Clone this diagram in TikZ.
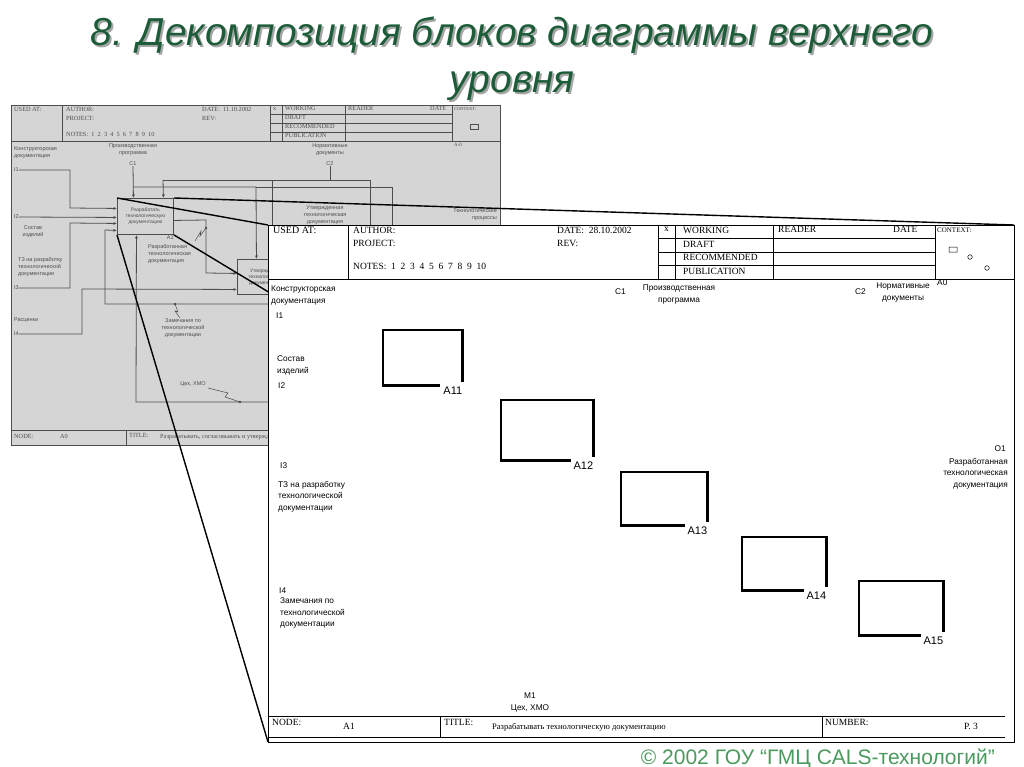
\documentclass[tikz,border=0pt]{standalone}
\usepackage{fontspec}
\setmainfont{Liberation Serif}
\setsansfont{Liberation Sans}
\usetikzlibrary{arrows.meta, positioning, calc}
\definecolor{ttlgreen}{HTML}{1D5C38}
\definecolor{cpgreen}{HTML}{4C9A5E}
\definecolor{shotgray}{HTML}{D5D5D5}
\definecolor{shotink}{HTML}{4D4D4D}

\begin{document}
\begin{tikzpicture}[
  x=1pt, y=-1pt,
  hdr/.style={inner sep=0, anchor=north west, font=\fontsize{9.5}{11}\selectfont},
  lbl/.style={inner sep=0, anchor=north west, align=left, font=\sffamily\fontsize{8.3}{11.5}\selectfont},
  blk/.style={inner sep=0, anchor=north west},
  blkline/.style={line width=2.2pt},
  blklbl/.style={inner sep=0, anchor=north east, font=\sffamily\fontsize{11}{11}\selectfont},
  sheetline/.style={line width=0.7pt},
  shot/.style={inner sep=0, text=shotink, align=center, font=\sffamily\fontsize{5.5}{7}\selectfont},
  shothdr/.style={inner sep=0, anchor=north west, text=shotink, font=\fontsize{6.3}{7}\selectfont},
  gbox/.style={draw=shotink, line width=0.9pt, fill=shotgray, inner sep=0, anchor=north west},
  garr/.style={draw=shotink, line width=0.8pt, -{Latex[length=3.5pt, width=3pt]}},
  gline/.style={draw=shotink, line width=0.8pt},
  zoomline/.style={line width=1.4pt},
  ttl/.style={align=center, font=\sffamily\itshape\fontsize{39}{47}\selectfont},
]

\fill[white] (0,0) rectangle (1024,767);
\useasboundingbox (0,0) rectangle (1024,767);

% screenshot of the upper level diagram
\fill[shotgray] (11,105) rectangle (500,445);
\draw[gline] (11,105) rectangle (500,445);
\draw[gline, line width=0.6pt] (11,141) -- (500,141)
  (62,105) -- (62,141) (270,105) -- (270,141) (282,105) -- (282,141)
  (345,105) -- (345,141) (452,105) -- (452,141)
  (270,114) -- (452,114) (270,123) -- (452,123) (270,132) -- (452,132)
  (11,430) -- (500,430) (126,430) -- (126,445);
\draw[gline, line width=0.5pt] (470,124) rectangle (478,129);
\node[shothdr] at (14,107) {USED AT:};
\node[shothdr] at (66,107) {AUTHOR:};
\node[shothdr] at (66,116) {PROJECT:};
\node[shothdr] at (66,132) {NOTES:\ \ 1\ \ 2\ \ 3\ \ 4\ \ 5\ \ 6\ \ 7\ \ 8\ \ 9\ \ 10};
\node[shothdr] at (202,107) {DATE:\ \ 11.10.2002};
\node[shothdr] at (202,116) {REV:};
\node[shothdr] at (273,107) {x};
\node[shothdr] at (285,106) {WORKING};
\node[shothdr] at (285,115) {DRAFT};
\node[shothdr] at (285,124) {RECOMMENDED};
\node[shothdr] at (285,133) {PUBLICATION};
\node[shothdr] at (348,106) {READER};
\node[shothdr] at (430,106) {DATE};
\node[shothdr, font=\fontsize{4.5}{5}\selectfont] at (454,107) {CONTEXT:};
\node[shothdr, font=\fontsize{5}{5}\selectfont] at (454,143) {A-0};
\node[shothdr] at (14,434) {NODE:};
\node[shothdr] at (60,434) {A0};
\node[shothdr] at (129,433) {TITLE:};
\node[shothdr] at (160,434) {Разрабатывать, согласовывать и утверждать технологическую документацию};

\node[gbox, minimum width=56pt, minimum height=36pt] (shotA1) at (117,198) {};
\node[shot, font=\sffamily\fontsize{5}{6}\selectfont] at (shotA1.center) {Разработать\\технологическую\\документацию};
\node[shot, anchor=north east] at ([yshift=-1pt]shotA1.south east) {A1};
\node[gbox, minimum width=45pt, minimum height=35pt] (shotA2) at (237,259) {};
\node[shot, font=\sffamily\fontsize{5}{6}\selectfont] at (shotA2.center) {Утвержд\\технологи\\документ};

\node[shot, anchor=north west, align=left] at (14,147) {Конструкторская\\документация};
\node[shot, anchor=west] (shotI1) at (14,170) {I1};
\node[shot, anchor=west] (shotI2) at (14,217) {I2};
\node[shot] at (33,232) {Состав\\изделий};
\node[shot, anchor=north west, align=left] at (18,257) {ТЗ на разработку\\технологической\\документации};
\node[shot, anchor=west] (shotI3) at (14,288) {I3};
\node[shot, anchor=west] at (14,320) {Расценки};
\node[shot, anchor=west] (shotI4) at (14,334) {I4};
\node[shot] at (133,150) {Производственная\\программа};
\node[shot] (shotC1) at (133,164) {C1};
\node[shot] at (330,150) {Нормативные\\документы};
\node[shot] (shotC2) at (330,164) {C2};
\node[shot, anchor=north west, align=left] at (148,244) {Разработанная\\технологическая\\документация};
\node[shot, anchor=north] at (325,206) {Утвержденная\\технологическая\\документация};
\node[shot, anchor=north east, align=right] at (497,209) {Технологические\\процессы};
\node[shot] at (183,328) {Замечания по\\технологической\\документации};
\node[shot] at (193,384) {Цех, ХМО};

\draw[garr] (shotI1.east) -- (70,170) -- (70,208) -- ([yshift=8pt]shotA1.west);
\draw[garr] (shotI2.east) -- ([yshift=-1pt]shotA1.west);
\draw[garr] (shotI3.east) -- (70,288) -- (70,223) -- ([yshift=-7pt]shotA1.west);
\draw[garr] (300,304) -- (105,304) -- (105,230) -- ([yshift=-14pt]shotA1.west);
\draw[garr] (shotI4.east) -- (82,334) -- (82,289) -- ([yshift=-12.5pt]shotA2.west);
\draw[garr] (shotC1.south) -- ([xshift=-12pt]shotA1.north);
\draw[garr] (133,187) -- (256,187) -- ([xshift=-3.5pt]shotA2.north);
\draw[gline] (256,187) -- (392,187) -- (392,240);
\draw[gline] (shotC2.south) -- (330,180);
\draw[gline] (163,180) -- (370,180) -- (370,240) (272,180) -- (272,240);
\draw[garr] (163,180) -- ([xshift=18pt]shotA1.north);
\draw[garr] ([yshift=-4pt]shotA1.east) -- (206,220) -- (206,273) -- ([yshift=3.5pt]shotA2.west);
\draw[garr] (300,402) -- (136,402) -- ([xshift=-9pt]shotA1.south);
\fill[shotink] (206,228) circle (1.3) (175,304) circle (1.3) (240,402) circle (1.3);
\draw[gline, line width=0.5pt] (206,228) -- (200,236) -- (201,231) -- (195,241);
\draw[gline, line width=0.5pt] (175,304) -- (178,312) -- (175,311) -- (180,318);
\draw[gline, line width=0.5pt] (240,402) -- (225,397) -- (228,393) -- (208,388);

% zoom lines to the sheet corners
\coordinate (sheetNW) at (268,225);
\coordinate (sheetNE) at (1014,225);
\coordinate (sheetSW) at (268,742);
\coordinate (sheetSE) at (1014,742);
\draw[zoomline] (shotA1.north west) -- (sheetNW);
\draw[zoomline] (shotA1.north east) -- (sheetNE);
\draw[zoomline] (shotA1.south west) -- (sheetSW);
\draw[zoomline] (shotA1.south east) -- (sheetSE);

% the A1 sheet
\filldraw[fill=white, sheetline] (sheetNW) rectangle (sheetSE);
\draw[sheetline] (268,279) -- (1014,279)
  (348,225) -- (348,279) (658,225) -- (658,279) (675,225) -- (675,279)
  (773,225) -- (773,279) (935,225) -- (935,279)
  (658,238) -- (935,238) (658,252) -- (935,252) (658,265) -- (935,265)
  (268,716) -- (1005,716) (268,737) -- (1005,737)
  (440,716) -- (440,737) (822,716) -- (822,737);
\draw[line width=0.5pt] (949,247) rectangle (957,252) (970,257) circle (2.3pt) (987,268) circle (2.3pt);

\node[hdr, font=\fontsize{10}{11}\selectfont] at (273,227) {USED AT:};
\node[hdr] at (353,227) {AUTHOR:};
\node[hdr] at (353,240) {PROJECT:};
\node[hdr] at (353,263) {NOTES:\ \ 1\ \ 2\ \ 3\ \ 4\ \ 5\ \ 6\ \ 7\ \ 8\ \ 9\ \ 10};
\node[hdr] at (557,227) {DATE:\ \ 28.10.2002};
\node[hdr] at (557,240) {REV:};
\node[hdr] at (664,227) {x};
\node[hdr] at (683,227) {WORKING};
\node[hdr] at (683,241) {DRAFT};
\node[hdr] at (683,254) {RECOMMENDED};
\node[hdr] at (683,268) {PUBLICATION};
\node[hdr] at (778,226) {READER};
\node[hdr] at (893,226) {DATE};
\node[hdr, font=\fontsize{7}{8}\selectfont] at (937,228) {CONTEXT:};
\node[hdr] at (272,719) {NODE:};
\node[hdr] at (343,723) {A1};
\node[hdr] at (444,719) {TITLE:};
\node[hdr, font=\fontsize{8.5}{9}\selectfont] at (492,723) {Разрабатывать технологическую документацию};
\node[hdr] at (825,719) {NUMBER:};
\node[hdr] at (964,723) {P. 3};

\node[lbl] at (271,286) {Конструкторская\\документация};
\node[lbl] at (276,313) {I1};
\node[lbl] at (615,289) {C1};
\node[lbl, anchor=north, align=center] at (679,285) {Производственная\\программа};
\node[lbl] at (855,289) {C2};
\node[lbl, anchor=north, align=center] at (903,283) {Нормативные\\документы};
\node[lbl] at (937,280) {A0};
\node[lbl] at (277,356) {Состав\\изделий};
\node[lbl] at (278,383) {I2};
\node[lbl] at (280,463) {I3};
\node[lbl] at (278,481) {ТЗ на разработку\\технологической\\документации};
\node[lbl] at (279,588) {I4};
\node[lbl] at (280,598) {Замечания по\\технологической\\документации};
\node[lbl, anchor=north east] at (1006,446) {O1};
\node[lbl, anchor=north east, align=right] at (1008,458) {Разработанная\\технологическая\\документация};
\node[lbl, anchor=north, align=center] at (530,693) {M1\\Цех, ХМО};

\foreach \n/\x/\y/\w/\h in {A11/383/330/79/55, A12/501/400/92/60, A13/621/472/86/53, A14/742/537/84/53, A15/859/581/84/54}{
  \node[blk, minimum width=\w pt, minimum height=\h pt] (\n) at (\x,\y) {};
  \draw[blkline] ([yshift=3pt]\n.south east) -- (\n.north east) -- (\n.north west) -- (\n.south west) -- ([xshift=-22pt]\n.south east);
  \node[blklbl] at ([yshift=-1pt]\n.south east) {\n};
}

% title and footer
\node[ttl, text=black!35] at (514,61) {8. Декомпозиция блоков диаграммы верхнего\\уровня};
\node[ttl, text=ttlgreen] (title) at (512,59) {8. Декомпозиция блоков диаграммы верхнего\\уровня};
\node[anchor=base east, inner sep=0, text=cpgreen, font=\sffamily\fontsize{21}{22}\selectfont] (copy) at (995,764) {© 2002 ГОУ “ГМЦ CALS-технологий”};
\end{tikzpicture}
\end{document}
